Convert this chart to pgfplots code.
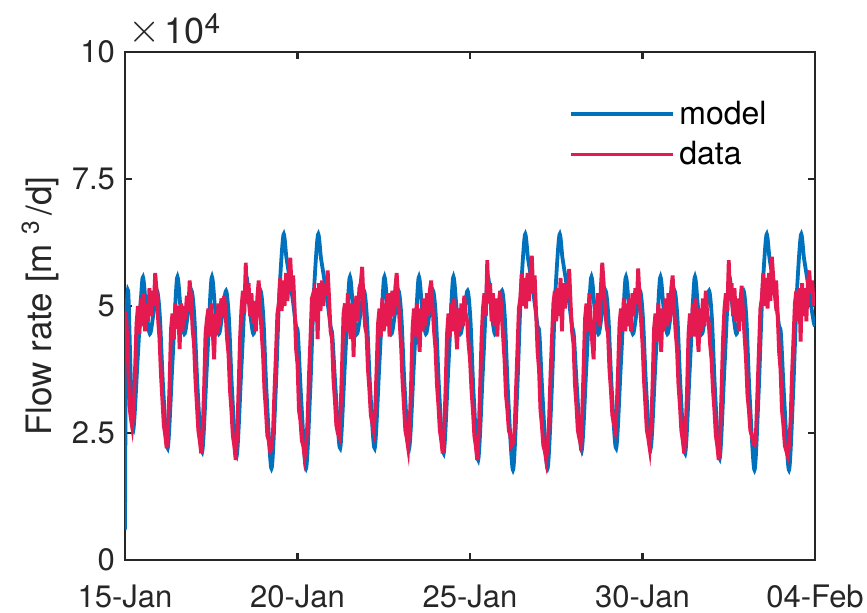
\documentclass[border=0pt]{standalone}
\usepackage{graphicx}
\usepackage{pgfplots}
\pgfplotsset{compat=1.18}
\usepackage{fontspec}
\setmainfont{TeX Gyre Heros}
\definecolor{mblue}{RGB}{0,114,189}
\definecolor{mred}{RGB}{228,26,80}
\definecolor{axgray}{RGB}{38,38,38}
\begin{document}
\begin{tikzpicture}
\begin{axis}[
  scale only axis, width=345pt, height=254pt,
  xmin=0, xmax=480, ymin=0, ymax=10,
  xtick={0,120,240,360,480},
  xticklabels={15-Jan,20-Jan,25-Jan,30-Jan,04-Feb},
  ytick={0,2.5,5,7.5,10},
  yticklabels={0,2.5,5,7.5,10},
  /pgf/number format/assume math mode=true,
  tick align=inside, major tick length=3.5pt,
  axis line style={draw=axgray, line width=1.1pt},
  tick style={axgray, line width=1.1pt},
  ticklabel style={font=\fontsize{15.5}{18}\selectfont, text=axgray},
  xticklabel style={yshift=-9pt},
  yticklabel style={xshift=-1.5pt},
  ylabel={Flow rate [m\hspace{5pt}\textsuperscript{3}\hspace{2pt}/d]},
  ylabel style={font=\fontsize{17.5}{20}\selectfont, text=axgray, at={(axis description cs:-0.123,0.5)}, anchor=center},
  legend style={draw=none, fill=none, at={(0.635,0.92)}, anchor=north west, font=\fontsize{16}{19}\selectfont, row sep=3pt},
  legend cell align=left,
  legend image code/.code={\draw[#1, line width=1.9pt] (0pt,0pt) -- (51pt,0pt);},
  after end axis/.code={
    \node[anchor=base west, inner sep=0pt, text=axgray, font=\fontsize{18}{20}\selectfont] at ([xshift=1.5pt,yshift=4pt]rel axis cs:0,1) {\raisebox{0.5pt}{\scalebox{1.2}{$\times$}}\hspace{2pt}10\raisebox{5pt}{\fontsize{14}{16}\selectfont 4}};
  },
]
\coordinate (sw) at (rel axis cs:0,0);
\addplot[mblue, line width=1.9pt, smooth] coordinates {
(0,0.6) (0.7,4.3) (2.2,5.3) (4,3.6) (5.8,2.56) (9,4.05) (12.2,5.55) (14.7,4.95) (17.3,4.45) (19.8,4.85) (22.3,5.3)
(24.3,4.77) (26.5,3.41) (29.7,2.2) (33,3.88) (36.2,5.55) (38.7,4.95) (41.3,4.45) (43.8,4.85) (46.3,5.3)
(48.3,4.76) (50.5,3.37) (53.7,2.13) (57,3.84) (60.2,5.55) (62.7,4.95) (65.3,4.45) (67.8,4.85) (70.3,5.3)
(72.3,4.75) (74.5,3.32) (77.7,2.05) (81,3.8) (84.2,5.55) (86.7,4.95) (89.3,4.45) (91.8,4.85) (94.3,5.3)
(96.3,4.74) (98.5,3.27) (101.9,1.8) (104.8,3.3) (107.3,5.2) (110.2,6.4) (112.3,5.95) (114.5,5.55) (116.8,5.1) (119,4.6)
(120.3,4.45) (122.5,3.2) (125.9,1.8) (128.8,3.3) (131.3,5.2) (134.2,6.4) (136.3,5.95) (138.5,5.55) (140.8,5.1) (143,4.6)
(144.3,4.4) (146.5,3.35) (149.7,2.2) (153,3.88) (156.2,5.55) (158.7,4.95) (161.3,4.45) (163.8,4.85) (166.3,5.3)
(168.3,4.77) (170.5,3.41) (173.7,2.2) (177,3.88) (180.2,5.55) (182.7,4.95) (185.3,4.45) (187.8,4.85) (190.3,5.3)
(192.3,4.77) (194.5,3.41) (197.7,2.2) (201,3.88) (204.2,5.55) (206.7,4.95) (209.3,4.45) (211.8,4.85) (214.3,5.3)
(216.3,4.76) (218.5,3.35) (221.7,2.1) (225,3.83) (228.2,5.55) (230.7,4.95) (233.3,4.45) (235.8,4.85) (238.3,5.3)
(240.3,4.73) (242.5,3.27) (245.7,1.97) (249,3.76) (252.2,5.55) (254.7,4.95) (257.3,4.45) (259.8,4.85) (262.3,5.3)
(264.3,4.73) (266.5,3.25) (269.9,1.77) (272.8,3.3) (275.3,5.2) (278.2,6.4) (280.3,5.95) (282.5,5.55) (284.8,5.1) (287,4.6)
(288.3,4.45) (290.5,3.2) (293.9,1.8) (296.8,3.3) (299.3,5.2) (302.2,6.4) (304.3,5.95) (306.5,5.55) (308.8,5.1) (311,4.6)
(312.3,4.4) (314.5,3.33) (317.7,2.15) (321,3.85) (324.2,5.55) (326.7,4.95) (329.3,4.45) (331.8,4.85) (334.3,5.3)
(336.3,4.77) (338.5,3.41) (341.7,2.2) (345,3.88) (348.2,5.55) (350.7,4.95) (353.3,4.45) (355.8,4.85) (358.3,5.3)
(360.3,4.77) (362.5,3.41) (365.7,2.2) (369,3.88) (372.2,5.55) (374.7,4.95) (377.3,4.45) (379.8,4.85) (382.3,5.3)
(384.3,4.76) (386.5,3.35) (389.7,2.1) (393,3.83) (396.2,5.55) (398.7,4.95) (401.3,4.45) (403.8,4.85) (406.3,5.3)
(408.3,4.74) (410.5,3.3) (413.7,2.0) (417,3.78) (420.2,5.55) (422.7,4.95) (425.3,4.45) (427.8,4.85) (430.3,5.3)
(432.3,4.73) (434.5,3.25) (437.9,1.77) (440.8,3.3) (443.3,5.2) (446.2,6.4) (448.3,5.95) (450.5,5.55) (452.8,5.1) (455,4.6)
(456.3,4.45) (458.5,3.2) (461.9,1.77) (464.8,3.3) (467.3,5.2) (470.2,6.4) (472.3,5.95) (474.5,5.55) (476.8,5.1) (479,4.7) (480,4.6)
};
\addlegendentry{model}
\addplot[mred, line width=1.9pt] coordinates {
(0,4.9) (1,4.7) (2,4.05) (3,3.05) (4,2.8) (5,2.62) (6,2.95) (7,3.75) (8,4.65) (9,5.0) (10,4.45) (11,5.15) (12,4.6) (13,5.25) (14,4.5) (15,5.05) (16,4.7) (17,5.35) (18,4.8) (19,5.3) (20,5.0) (21,5.65) (22,5.3) (23,4.75)
(24,4.35) (25,3.65) (26,3.15) (27,2.65) (28,2.45) (29,2.2) (30,2.65) (31,3.45) (32,4.55) (33,4.85) (34,4.35) (35,5.05) (36,4.55) (37,5.0) (38,4.15) (39,5.05) (40,4.5) (41,5.0) (42,4.75) (43,5.2) (44,4.9) (45,5.5) (46,5.15) (47,4.55)
(48,4.25) (49,3.55) (50,3.05) (51,2.55) (52,2.35) (53,2.1) (54,2.55) (55,3.35) (56,4.45) (57,4.75) (58,4.95) (59,4.4) (60,5.05) (61,4.5) (62,3.95) (63,4.85) (64,4.45) (65,5.05) (66,4.6) (67,5.15) (68,4.8) (69,5.2) (70,4.85) (71,4.35)
(72,4.05) (73,3.35) (74,2.95) (75,2.45) (76,2.25) (77,1.97) (78,2.45) (79,3.35) (80,4.35) (81,4.95) (82,5.3) (83,4.85) (84,5.85) (85,5.05) (86,5.45) (87,4.8) (88,5.25) (89,4.65) (90,5.1) (91,4.5) (92,5.15) (93,5.5) (94,4.95) (95,4.5)
(96,4.05) (97,3.35) (98,2.95) (99,2.45) (100,2.35) (101,2.15) (102,2.2) (103,2.55) (104,3.35) (105,4.05) (106,4.85) (107,5.05) (108,5.55) (109,4.9) (110,5.5) (111,5.0) (112,5.65) (113,5.1) (114,5.55) (115,5.95) (116,5.3) (117,5.6) (118,4.95) (119,4.15)
(120,3.85) (121,2.95) (122,2.75) (123,2.35) (124,2.25) (125,2.03) (126,2.25) (127,2.75) (128,3.65) (129,4.35) (130,5.15) (131,5.25) (132,4.7) (133,5.35) (134,4.35) (135,5.45) (136,4.9) (137,5.5) (138,5.0) (139,5.45) (140,5.2) (141,5.7) (142,5.15) (143,4.5)
(144,4.35) (145,3.55) (146,3.15) (147,2.65) (148,2.5) (149,2.43) (150,2.95) (151,3.85) (152,4.85) (153,5.05) (154,4.5) (155,5.25) (156,4.7) (157,4.35) (158,5.05) (159,4.0) (160,4.95) (161,5.2) (162,4.7) (163,5.35) (164,5.45) (165,5.77) (166,5.05) (167,4.6)
(168,4.45) (169,3.75) (170,3.35) (171,2.85) (172,2.7) (173,2.56) (174,2.95) (175,3.75) (176,4.65) (177,4.95) (178,4.4) (179,5.15) (180,4.5) (181,5.05) (182,4.6) (183,5.25) (184,4.4) (185,5.05) (186,5.3) (187,4.8) (188,5.35) (189,5.65) (190,5.15) (191,4.7)
(192,4.25) (193,3.55) (194,3.05) (195,2.55) (196,2.4) (197,2.2) (198,2.65) (199,3.45) (200,4.55) (201,4.95) (202,4.4) (203,5.05) (204,4.5) (205,4.1) (206,4.95) (207,4.5) (208,5.15) (209,4.6) (210,5.25) (211,4.8) (212,5.3) (213,5.5) (214,4.95) (215,4.5)
(216,4.15) (217,3.45) (218,3.05) (219,2.55) (220,2.35) (221,2.1) (222,2.55) (223,3.35) (224,4.45) (225,4.85) (226,4.4) (227,5.05) (228,4.5) (229,5.15) (230,4.6) (231,4.15) (232,4.95) (233,4.5) (234,5.05) (235,4.6) (236,5.2) (237,4.85) (238,4.7) (239,4.25)
(240,3.95) (241,3.35) (242,2.95) (243,2.45) (244,2.25) (245,1.97) (246,2.45) (247,3.35) (248,4.35) (249,4.95) (250,5.25) (251,4.8) (252,5.9) (253,5.05) (254,5.45) (255,4.7) (256,5.25) (257,4.6) (258,5.15) (259,4.4) (260,5.05) (261,5.3) (262,4.85) (263,4.4)
(264,3.95) (265,3.25) (266,2.95) (267,2.55) (268,2.45) (269,2.25) (270,2.3) (271,2.55) (272,3.35) (273,4.15) (274,4.95) (275,5.15) (276,5.65) (277,5.0) (278,5.55) (279,4.95) (280,5.65) (281,5.1) (282,5.6) (283,5.99) (284,5.25) (285,5.6) (286,4.85) (287,4.1)
(288,3.75) (289,2.95) (290,2.65) (291,2.25) (292,2.15) (293,1.97) (294,2.25) (295,2.75) (296,3.65) (297,4.35) (298,5.05) (299,5.3) (300,4.7) (301,5.35) (302,4.8) (303,5.55) (304,4.5) (305,5.45) (306,4.95) (307,5.45) (308,5.15) (309,5.73) (310,5.05) (311,4.5)
(312,4.25) (313,3.45) (314,3.05) (315,2.55) (316,2.4) (317,2.28) (318,2.85) (319,3.75) (320,4.75) (321,5.05) (322,4.5) (323,5.25) (324,4.6) (325,4.3) (326,3.95) (327,5.05) (328,4.7) (329,5.25) (330,4.6) (331,5.35) (332,5.85) (333,5.45) (334,4.95) (335,4.6)
(336,4.45) (337,3.75) (338,3.35) (339,2.85) (340,2.7) (341,2.56) (342,2.95) (343,3.75) (344,4.65) (345,4.95) (346,4.5) (347,5.15) (348,4.5) (349,5.05) (350,4.6) (351,5.15) (352,4.5) (353,5.25) (354,4.8) (355,5.35) (356,5.05) (357,5.74) (358,5.15) (359,4.7)
(360,4.25) (361,3.55) (362,3.05) (363,2.55) (364,2.4) (365,2.2) (366,2.65) (367,3.45) (368,4.55) (369,4.85) (370,4.3) (371,5.05) (372,4.5) (373,4.1) (374,4.95) (375,4.5) (376,5.15) (377,4.6) (378,5.25) (379,4.7) (380,5.35) (381,5.6) (382,4.95) (383,4.5)
(384,4.15) (385,3.45) (386,3.05) (387,2.55) (388,2.35) (389,2.1) (390,2.55) (391,3.35) (392,4.45) (393,4.85) (394,4.4) (395,5.05) (396,4.4) (397,5.15) (398,4.5) (399,4.1) (400,4.95) (401,4.5) (402,5.15) (403,4.6) (404,5.3) (405,4.85) (406,4.7) (407,4.25)
(408,3.95) (409,3.35) (410,2.95) (411,2.45) (412,2.25) (413,1.97) (414,2.45) (415,3.35) (416,4.35) (417,4.95) (418,5.25) (419,4.9) (420,5.9) (421,5.1) (422,5.45) (423,4.8) (424,5.35) (425,4.7) (426,5.15) (427,4.5) (428,5.05) (429,5.4) (430,4.85) (431,4.4)
(432,3.95) (433,3.25) (434,2.95) (435,2.55) (436,2.45) (437,2.3) (438,2.27) (439,2.55) (440,3.35) (441,4.15) (442,4.95) (443,5.15) (444,5.65) (445,5.0) (446,5.55) (447,4.95) (448,5.65) (449,5.1) (450,5.97) (451,5.55) (452,5.25) (453,5.5) (454,4.85) (455,4.1)
(456,3.75) (457,2.95) (458,2.65) (459,2.25) (460,2.15) (461,2.05) (462,2.25) (463,2.75) (464,3.65) (465,4.35) (466,5.05) (467,5.3) (468,4.7) (469,5.35) (470,4.3) (471,5.45) (472,4.8) (473,5.35) (474,4.7) (475,5.45) (476,5.7) (477,5.25) (478,5.5) (479,5.05) (480,5.0)
};
\addlegendentry{data}
\end{axis}
\pgfresetboundingbox
\path[use as bounding box] ([shift={(-62.5pt,-26.5pt)}]sw) rectangle ++(433.5pt,306.5pt);
\end{tikzpicture}
\end{document}
